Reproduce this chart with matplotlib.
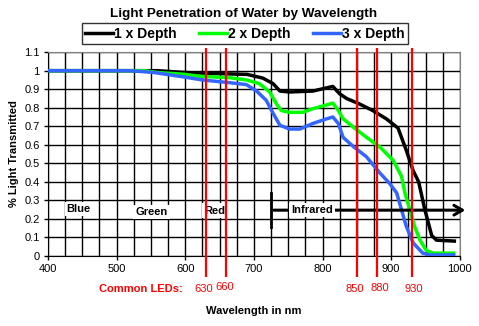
#!/usr/bin/env python3
import numpy as np
import matplotlib.pyplot as plt

plt.rcParams['font.family'] = ['Liberation Sans', 'DejaVu Sans']

# transmission curves, read per depth
nm1 = [400, 560, 580, 600, 640, 690, 713, 728, 738, 752, 786, 815, 825, 835, 854,
       873, 893, 910, 922, 932, 940, 949, 959, 966, 992]
depth1 = [1.0, 1.0, 0.995, 0.99, 0.985, 0.98, 0.96, 0.93, 0.89, 0.885, 0.89, 0.915,
          0.875, 0.85, 0.82, 0.785, 0.74, 0.69, 0.57, 0.46, 0.40, 0.25, 0.11, 0.085, 0.08]

nm2 = [400, 540, 560, 600, 620, 665, 689, 708, 723, 733, 740, 752, 771, 786, 806,
       815, 823, 830, 845, 864, 883, 903, 915, 920, 927, 934, 942, 951, 961, 991]
depth2 = [1.0, 1.0, 0.99, 0.98, 0.97, 0.962, 0.95, 0.93, 0.885, 0.82, 0.785, 0.775,
          0.775, 0.795, 0.815, 0.825, 0.785, 0.74, 0.695, 0.64, 0.59, 0.515, 0.43,
          0.34, 0.25, 0.16, 0.085, 0.03, 0.015, 0.015]

nm3 = [400, 520, 555, 600, 625, 665, 689, 704, 718, 728, 738, 752, 767, 786, 806,
       815, 823, 830, 845, 864, 883, 898, 908, 915, 922, 932, 946, 956, 991]
depth3 = [1.0, 1.0, 0.99, 0.965, 0.95, 0.935, 0.925, 0.89, 0.84, 0.77, 0.705, 0.685,
          0.685, 0.715, 0.74, 0.75, 0.715, 0.64, 0.59, 0.535, 0.45, 0.39, 0.34, 0.25,
          0.16, 0.07, 0.015, 0.005, 0.005]

leds = [630, 660, 850, 880, 930]
led_label_y = [-0.178, -0.17, -0.18, -0.172, -0.176]

bands = ['Blue', 'Green', 'Red']
band_x = [445, 551, 643]
band_y = [0.253, 0.238, 0.245]

fig = plt.figure(figsize=(4.79, 3.26), dpi=100)
ax = fig.add_axes([0.100, 0.215, 0.860, 0.625])

ax.set_xlim(400, 1000)
ax.set_ylim(0, 1.1)
ax.set_xticks(np.arange(400, 1001, 25), minor=True)
ax.set_xticks(np.arange(400, 1001, 100))
ax.set_yticks(np.round(np.arange(0, 1.11, 0.1), 1))
ax.set_yticklabels(['0', '0.1', '0.2', '0.3', '0.4', '0.5', '0.6', '0.7', '0.8',
                    '0.9', '1', '1.1'])
ax.tick_params(axis='both', which='major', labelsize=8, length=3, width=1,
               direction='out', pad=3)
ax.tick_params(axis='x', which='minor', length=0)
ax.grid(True, which='both', color='black', linewidth=1)
ax.set_axisbelow(True)
for s in ['top', 'right']:
    ax.spines[s].set_color('#808080')
for s in ['left', 'bottom']:
    ax.spines[s].set_color('black')

ax.plot(nm1, depth1, color='black', lw=2.5, label='1 x Depth', zorder=3)
ax.plot(nm2, depth2, color='#00ff00', lw=2.5, label='2 x Depth', zorder=3)
ax.plot(nm3, depth3, color='#3366ff', lw=2.5, label='3 x Depth', zorder=3)

# spectral band labels and the infrared arrow
for name, x, y in zip(bands, band_x, band_y):
    ax.text(x, y, name, fontsize=8, fontweight='bold', ha='center', va='center',
            zorder=4, bbox=dict(facecolor='white', edgecolor='none', pad=1.5))
ax.plot([725, 725], [0.156, 0.34], color='black', lw=2, zorder=4)
ax.annotate('', xy=(1012, 0.247), xytext=(725, 0.247),
            arrowprops=dict(arrowstyle='->,head_length=0.6,head_width=0.35',
                            color='black', lw=2.2),
            annotation_clip=False, zorder=4)
ax.text(785, 0.247, 'Infrared', fontsize=8, fontweight='bold', ha='center',
        va='center', zorder=5,
        bbox=dict(facecolor='white', edgecolor='none', pad=1.5))

# common LED wavelengths
ax.vlines(leds, -0.113, 1.12, color='red', lw=1.6, zorder=6, clip_on=False)
for w, y in zip(leds, led_label_y):
    ax.text(w + (3 if w in (880, 930) else -3), y, str(w), color='red', fontsize=8,
            ha='center', va='center', clip_on=False)
ax.text(535, -0.177, 'Common LEDs:', color='red', fontsize=8, fontweight='bold',
        ha='center', va='center', clip_on=False)

ax.set_xlabel('Wavelength in nm', fontsize=8, fontweight='bold', labelpad=23)
ax.set_ylabel('% Light Transmitted', fontsize=8, fontweight='bold', labelpad=4)

fig.text(0.508, 0.957, 'Light Penetration of Water by Wavelength', fontsize=9.7,
         fontweight='bold', ha='center', va='center')
leg = fig.legend(loc='center', bbox_to_anchor=(0.5115, 0.897), ncol=3,
                 prop={'weight': 'bold', 'size': 10}, frameon=True, fancybox=False,
                 edgecolor='black', handlelength=2.0, handletextpad=0.1,
                 columnspacing=1.6, borderpad=0.25)
leg.get_frame().set_linewidth(1)
for line in leg.get_lines():
    line.set_linewidth(2.5)

fig.savefig('out.png', dpi=100)
